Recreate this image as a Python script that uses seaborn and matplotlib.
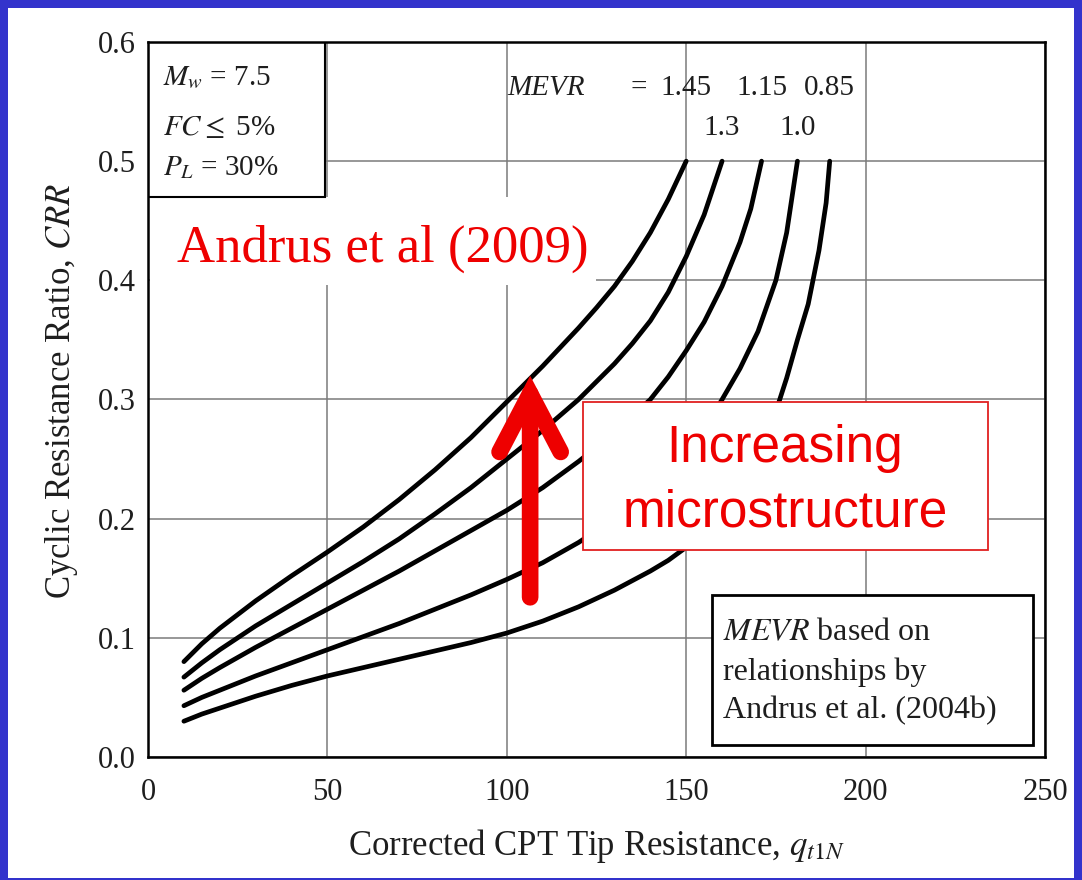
"""
CRR vs corrected CPT tip resistance curves for several MEVR values
(Andrus et al. 2009 style chart).
"""

import pandas as pd
import matplotlib
matplotlib.use("Agg")
import matplotlib.pyplot as plt
import matplotlib.transforms as mtransforms
import seaborn as sns
from matplotlib.patches import Rectangle, FancyArrowPatch, ArrowStyle
from matplotlib.ticker import FormatStrFormatter


# ---------------------------------------------------------------------------
# 1. Data (q_t1N, CRR) for each MEVR curve
# ---------------------------------------------------------------------------
mevr_values = ["1.45", "1.3", "1.15", "1.0", "0.85"]

q_145 = [10, 15, 20, 30, 40, 50, 60, 70, 80, 90, 100, 110, 120, 125, 130,
         135, 140, 145, 150]
crr_145 = [0.080, 0.095, 0.108, 0.131, 0.152, 0.172, 0.193, 0.216, 0.241,
           0.268, 0.298, 0.328, 0.360, 0.377, 0.395, 0.416, 0.440, 0.468,
           0.500]

q_130 = [10, 15, 20, 30, 40, 50, 60, 70, 80, 90, 100, 110, 120, 130, 135,
         140, 145, 150, 155, 160]
crr_130 = [0.067, 0.079, 0.090, 0.110, 0.128, 0.146, 0.164, 0.183, 0.204,
           0.226, 0.250, 0.274, 0.300, 0.330, 0.347, 0.366, 0.390, 0.420,
           0.455, 0.500]

q_115 = [10, 15, 20, 30, 40, 50, 60, 70, 80, 90, 100, 110, 120, 130, 140,
         145, 150, 155, 160, 165, 168, 171]
crr_115 = [0.056, 0.066, 0.075, 0.092, 0.108, 0.124, 0.140, 0.156, 0.173,
           0.190, 0.207, 0.226, 0.248, 0.272, 0.300, 0.319, 0.341, 0.365,
           0.395, 0.432, 0.460, 0.500]

q_100 = [10, 15, 20, 30, 40, 50, 60, 70, 80, 90, 100, 110, 120, 130, 140,
         150, 155, 160, 165, 170, 175, 178, 181]
crr_100 = [0.043, 0.050, 0.056, 0.068, 0.079, 0.090, 0.101, 0.112, 0.124,
           0.136, 0.149, 0.163, 0.180, 0.200, 0.224, 0.255, 0.275, 0.300,
           0.326, 0.357, 0.400, 0.440, 0.500]

q_085 = [10, 15, 20, 30, 40, 50, 60, 70, 80, 90, 100, 110, 120, 130, 140,
         145, 150, 155, 160, 165, 170, 175, 178, 181, 184, 187, 189, 190]
crr_085 = [0.030, 0.036, 0.041, 0.051, 0.060, 0.068, 0.075, 0.082, 0.089,
           0.096, 0.104, 0.114, 0.126, 0.140, 0.156, 0.165, 0.176, 0.189,
           0.205, 0.226, 0.252, 0.290, 0.318, 0.350, 0.380, 0.425, 0.465,
           0.500]

curve_q = [q_145, q_130, q_115, q_100, q_085]
curve_crr = [crr_145, crr_130, crr_115, crr_100, crr_085]


def build_frame():
    """Long-format table for seaborn."""
    frames = []
    for name, q, crr in zip(mevr_values, curve_q, curve_crr):
        frames.append(pd.DataFrame({"q": q, "CRR": crr, "MEVR": name}))
    return pd.concat(frames, ignore_index=True)


# ---------------------------------------------------------------------------
# 2. Plot
# ---------------------------------------------------------------------------
def plot_crr(df):
    sns.set_theme(style="white")
    plt.rcParams["font.family"] = ["Liberation Serif", "DejaVu Serif"]
    plt.rcParams["mathtext.fontset"] = "stix"

    ink = "#1e1e1e"
    red = "#ee0000"

    fig = plt.figure(figsize=(10.82, 8.8), dpi=100, facecolor="#3333cc")
    # white slide area inside the blue frame
    fig.patches.append(Rectangle((8 / 1082, 2 / 880), 1066 / 1082, 870 / 880,
                                 transform=fig.transFigure, facecolor="white",
                                 edgecolor="none", zorder=-1))
    ax = fig.add_axes([0.1368, 0.1398, 0.829, 0.8125])

    sns.lineplot(data=df, x="q", y="CRR", hue="MEVR", hue_order=mevr_values,
                 palette=["black"] * len(mevr_values), linewidth=3.4,
                 legend=False, sort=False, estimator=None, ax=ax, zorder=2,
                 solid_joinstyle="round", solid_capstyle="round")

    ax.set_xlim(0, 250)
    ax.set_ylim(0, 0.6)
    ax.set_xticks([0, 50, 100, 150, 200, 250])
    ax.set_yticks([0.0, 0.1, 0.2, 0.3, 0.4, 0.5, 0.6])
    ax.yaxis.set_major_formatter(FormatStrFormatter("%.1f"))
    ax.grid(True, color="#7a7a7a", linewidth=1.1)
    ax.set_axisbelow(True)
    for sp in ax.spines.values():
        sp.set_color("black")
        sp.set_linewidth(1.8)
        sp.set_zorder(6)
    ax.tick_params(axis="both", direction="in", length=4, width=1.2,
                   labelsize=22, colors=ink)
    ax.tick_params(axis="x", pad=15)
    ax.tick_params(axis="y", pad=9)

    ax.set_xlabel(r"Corrected CPT Tip Resistance, $q_{t1N}$", fontsize=25,
                  color=ink)
    ax.set_ylabel(r"Cyclic Resistance Ratio, $CRR$", fontsize=25, color=ink)
    ax.xaxis.set_label_coords(0.5, -0.098)
    ax.yaxis.set_label_coords(-0.076, 0.512)

    # --- top-left condition box ---
    ax.add_patch(Rectangle((0, 0.783), 0.197, 0.217, transform=ax.transAxes,
                           facecolor="white", edgecolor="black", lw=1.5,
                           zorder=3))
    for y, txt in [(0.940, r"$M_w$ = 7.5"), (0.870, r"$FC\leq$ 5%"),
                   (0.814, r"$P_L$ = 30%")]:
        ax.text(0.017, y, txt, transform=ax.transAxes, va="baseline",
                fontsize=21, color=ink, zorder=4)

    # --- MEVR labels above curve ends ---
    ax.text(0.401, 0.926, "MEVR", transform=ax.transAxes, va="baseline",
            fontsize=21, style="italic", color=ink)
    ax.text(0.538, 0.926, "=", transform=ax.transAxes, va="baseline",
            fontsize=21, color=ink)
    trans = mtransforms.blended_transform_factory(ax.transData, ax.transAxes)
    for i, (name, q) in enumerate(zip(mevr_values, curve_q)):
        y = 0.926 if i % 2 == 0 else 0.870
        ax.text(q[-1], y, name, transform=trans, ha="center", va="baseline",
                fontsize=21, color=ink)

    # --- red title with white backing ---
    ax.add_patch(Rectangle((0.002, 0.660), 0.497, 0.123,
                           transform=ax.transAxes, facecolor="white",
                           edgecolor="none", zorder=1))
    ax.text(0.262, 0.692, "Andrus et al (2009)", transform=ax.transAxes,
            ha="center", va="baseline", fontsize=38, color=red, zorder=4)

    # --- "Increasing microstructure" box + arrow ---
    ax.add_patch(Rectangle((0.485, 0.2895), 0.451, 0.207,
                           transform=ax.transAxes, facecolor="white",
                           edgecolor="#e02020", lw=1.3, zorder=3))
    for y, txt in [(0.413, "Increasing"), (0.322, "microstructure")]:
        ax.text(0.710, y, txt, transform=ax.transAxes, ha="center",
                va="baseline", fontsize=37, color=red,
                family=["Liberation Sans", "DejaVu Sans"], zorder=4)

    arrow = FancyArrowPatch((106.5, 0.134), (106.5, 0.320),
                            arrowstyle=ArrowStyle("->", head_length=42,
                                                  head_width=22),
                            mutation_scale=1, lw=12, color=red,
                            shrinkA=0, shrinkB=0, capstyle="round",
                            joinstyle="miter", zorder=5)
    ax.add_patch(arrow)

    # --- bottom-right source box ---
    ax.add_patch(Rectangle((0.629, 0.0168), 0.358, 0.2098,
                           transform=ax.transAxes, facecolor="white",
                           edgecolor="black", lw=2.0, zorder=3))
    for y, txt in [(0.1636, r"$MEVR$ based on"),
                   (0.1077, "relationships by"),
                   (0.0545, "Andrus et al. (2004b)")]:
        ax.text(0.641, y, txt, transform=ax.transAxes, va="baseline",
                fontsize=23, color=ink, zorder=4)

    fig.savefig("out.png", dpi=100, facecolor=fig.get_facecolor())


# ---------------------------------------------------------------------------
# 3. Main
# ---------------------------------------------------------------------------
if __name__ == "__main__":
    plot_crr(build_frame())
